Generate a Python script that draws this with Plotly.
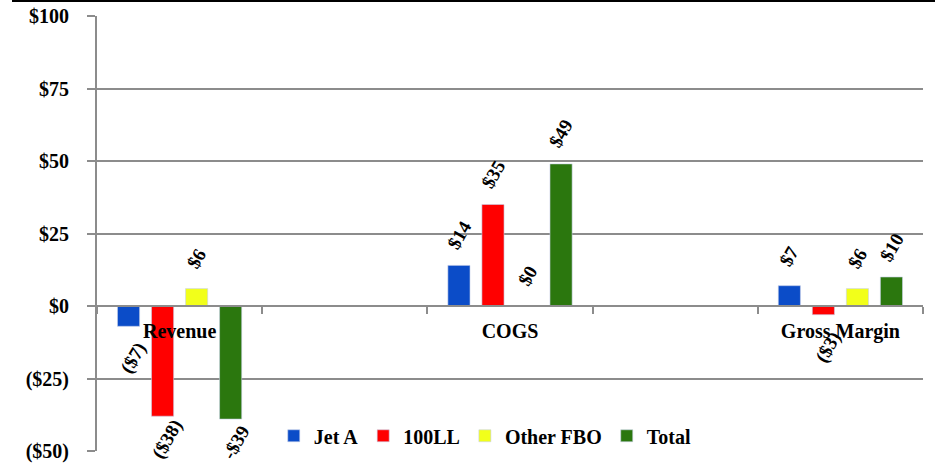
import plotly.graph_objects as go

# Categories (blank slots keep the groups spread out along the axis)
categories = ["Revenue", " ", "COGS", "  ", "Gross Margin"]
groups = ["Revenue", "COGS", "Gross Margin"]

series_names = ["Jet A", "100LL", "Other FBO", "Total"]
jet_a = [-7, 14, 7]
ll100 = [-38, 35, -3]
other_fbo = [6, 0, 6]
total = [-39, 49, 10]

jet_a_labels = ["($7)", "$14", "$7"]
ll100_labels = ["($38)", "$35", "($3)"]
other_fbo_labels = ["$6", "$0", "$6"]
total_labels = ["-$39", "$49", "$10"]

colors = ["#0b4cc8", "#ff0000", "#f2ff1a", "#2b770e"]

y_ticks = [-50, -25, 0, 25, 50, 75, 100]
y_tick_text = ["($50)", "($25)", "$0", "$25", "$50", "$75", "$100"]

FONT = "Liberation Serif"
GRID = "#8c8c8c"
BAR_STEP = 34  # pixel distance between neighbouring bars in a group


def label_offset(v):
    """Vertical pixel offset of a rotated value label from its bar end."""
    if v >= 0:
        return 30
    # deep negative bars sit near the bottom edge, so keep their labels tighter
    return -32 if v > -30 else -23


fig = go.Figure()
annotations = []
all_vals = [jet_a, ll100, other_fbo, total]
all_labels = [jet_a_labels, ll100_labels, other_fbo_labels, total_labels]
for i, (name, vals, labels, col) in enumerate(zip(series_names, all_vals, all_labels, colors)):
    fig.add_trace(go.Bar(
        name=name, x=groups, y=vals,
        marker=dict(color=col, line=dict(color="#c8d0e8", width=0.6)),
    ))
    # rotated value labels just beyond the end of each bar
    for g, v, lab in zip(groups, vals, labels):
        annotations.append(dict(
            x=g, y=v, xref="x", yref="y", text=lab, showarrow=False,
            textangle=-60, xanchor="center", yanchor="middle",
            xshift=(i - 1.5) * BAR_STEP + (5 if v < 0 else 0),
            yshift=label_offset(v),
            font=dict(family=FONT, size=19, color="black", weight="bold"),
        ))

fig.update_layout(
    width=935, height=465,
    margin=dict(l=97, r=12, t=16, b=14, autoexpand=False),
    paper_bgcolor="white", plot_bgcolor="white",
    barmode="group", bargap=0.176, bargroupgap=0.35,
    font=dict(family=FONT, size=20, color="black"),
    showlegend=True,
    legend=dict(
        orientation="h", x=0.214, y=0.035, xanchor="left", yanchor="middle",
        bgcolor="rgba(0,0,0,0)", font=dict(family=FONT, size=20, weight="bold"),
        itemwidth=30, tracegroupgap=0,
    ),
    xaxis=dict(
        type="category", categoryorder="array", categoryarray=categories,
        range=[-0.5, 4.5], anchor="free", position=1 / 3, automargin=False,
        showline=True, linecolor=GRID, linewidth=2,
        ticks="outside", tickson="boundaries", ticklen=7, tickwidth=2, tickcolor=GRID,
        tickfont=dict(family=FONT, size=20, weight="bold"), ticklabelstandoff=7,
        showgrid=False, zeroline=False,
    ),
    yaxis=dict(
        range=[-50, 100], tickvals=y_ticks, ticktext=y_tick_text, automargin=False,
        showline=True, linecolor=GRID, linewidth=2,
        ticks="outside", ticklen=8, tickwidth=2, tickcolor=GRID,
        tickfont=dict(family=FONT, size=20, weight="bold"), ticklabelstandoff=14,
        showgrid=True, gridcolor=GRID, gridwidth=2, zeroline=False,
    ),
    annotations=annotations,
    shapes=[dict(
        type="line", xref="paper", yref="paper",
        x0=-85 / 826, x1=838 / 826, y0=450 / 435, y1=450 / 435,
        line=dict(color="black", width=2),
    )],
)

fig.write_html("out.html")
